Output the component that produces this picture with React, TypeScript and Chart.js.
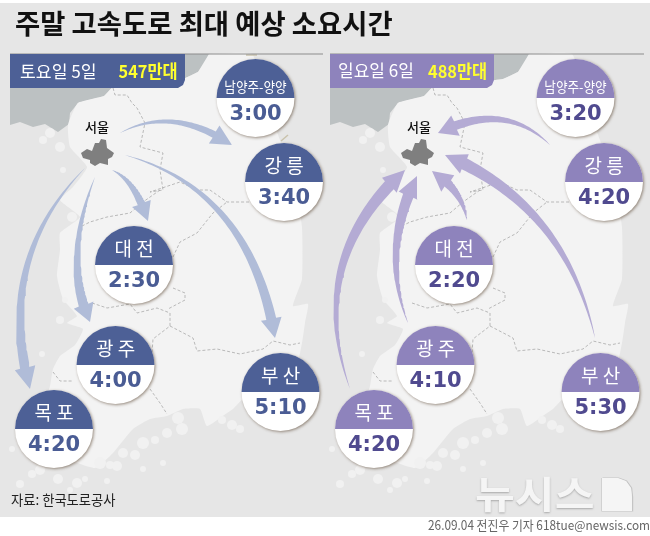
import React, { useEffect, useRef } from "react";
import { Chart, registerables } from "chart.js";

Chart.register(...registerables);

type P = [number, number];

const TITLE = "주말 고속도로 최대 예상 소요시간";
const SOURCE = "자료: 한국도로공사";
const BYLINE = "26.09.04 전진우 기자 618tue@newsis.com";
const CITY = "서울";

const routeNames = ["남양주-양양", "강 릉", "대 전", "광 주", "부 산", "목 포"];
const satTimes = ["3:00", "3:40", "2:30", "4:00", "5:10", "4:20"];
const sunTimes = ["3:20", "4:20", "2:20", "4:10", "5:30", "4:20"];
const badgeX = [255.5, 284, 134, 115.5, 280.5, 54];
const badgeY = [98, 182, 265, 365, 392, 429];
const satLabel = ["토요일 5일", "547만대"];
const sunLabel = ["일요일 6일", "488만대"];
const PANEL_SHIFT = 320;

const sea: P[] = [[10,54],[209,54],[205,63],[198,72],[183,79],[112,88],[104,96],[78,103],[70,113],[69,124],[58,132],[45,124],[33,127],[20,122],[10,125]];
const land: P[] = [[209,54],[252,54],[262,90],[280,140],[296,190],[302,227],[302,279],[293,306],[308,304],[305,323],[302,343],[295,370],[243,399],[233,409],[227,413],[207,426],[200,409],[183,409],[167,416],[150,419],[133,429],[113,453],[95,468],[60,455],[40,420],[50,386],[53,369],[60,356],[75,345],[83,329],[67,323],[77,316],[63,299],[57,276],[60,250],[60,233],[80,217],[60,200],[73,187],[87,167],[70,147],[68,125],[78,103],[104,96],[112,88],[183,79],[198,72]];
const seoul: P[] = [[81,153],[87,149],[92,151],[95,143],[99,143],[101,139],[106,140],[107,148],[114,153],[112,157],[108,159],[108,165],[100,163],[95,166],[90,163],[90,160],[83,158]];
const logoD: P[] = [[602,478],[618,478],[626,481],[631,488],[632,497],[632,511],[602,511]];

const borders: P[][] = [
  [[113,88],[115,95],[127,95],[132,103],[137,108],[145,123],[140,147],[163,153],[160,170],[163,190],[150,192],[180,182],[197,190],[210,190],[227,202],[250,202]],
  [[160,190],[143,202],[130,213],[107,217],[90,222],[80,227]],
  [[173,257],[180,242],[197,233],[213,213],[227,202]],
  [[92,303],[107,308],[130,304],[137,313],[157,308],[170,313],[170,326],[153,339],[152,353]],
  [[170,326],[193,338],[197,351],[217,349],[240,354],[263,349],[273,341],[290,345],[300,343]],
  [[173,288],[185,293],[185,300],[168,309]],
  [[150,389],[160,403],[167,414]],
  [[53,372],[60,381],[73,381]],
];

const islands: number[][] = [
  [12,449,3],[20,484,4],[32,474,4],[58,479,5],[77,483,5],[85,479,3],[107,481,3],[117,466,5],[143,469,3],[163,463,3],[123,453,5],[100,463,6],[143,443,6],[167,433,5],[182,429,6],[240,429,4],[42,354,3],[50,133,5],[43,140,4],[60,147,5],[63,170,3],[72,217,5],[65,300,3],[60,320,4],[40,470,5],[70,490,3],[110,465,4],[135,455,5],[155,440,4],[178,418,6],[232,425,5],[222,420,4],
];

const satArrows: number[][] = [
  [120,133, 172,105, 232,145, 7,21,19],
  [125,155, 250,190, 275,338, 10,21,19],
  [112,170, 135,180, 148,221, 8,20,18],
  [95,177, 62,260, 90,322, 10,21,18],
  [85,168, -5,260, 30,389, 10,21,18],
];
const sunArrows: number[][] = [
  [550,145, 505,100, 438,133, 9,22,18],
  [595,338, 565,205, 445,155, 12,21,20],
  [467,220, 462,190, 432,171, 9,21,20],
  [408,323, 380,250, 417,176, 11,21,20],
  [350,389, 305,260, 405,170, 12,21,20],
];

const BLUE = "#4d6096";
const PURPLE = "#8e83bc";
const BLUE_TXT = "#4a5c94";
const PURPLE_TXT = "#504a8f";

function arrowPoly(a: number[]): P[] {
  const [x0,y0,cx,cy,x1,y1,body,head,headLen] = a;
  const pts: P[] = [];
  for (let i = 0; i <= 60; i++) {
    const t = i / 60, u = 1 - t;
    const x = u*u*x0 + 2*u*t*cx + t*t*x1, y = u*u*y0 + 2*u*t*cy + t*t*y1;
    if (Math.hypot(x-x1, y-y1) < headLen) break;
    pts.push([x, y]);
  }
  const n = pts.length;
  const L: P[] = [], R: P[] = [];
  pts.forEach((p, i) => {
    const q = pts[Math.min(i+1, n-1)], o = pts[Math.max(i-1, 0)];
    const dx = q[0]-o[0], dy = q[1]-o[1], d = Math.hypot(dx, dy) || 1;
    const w = (body/2) * Math.pow(i/(n-1), 0.8);
    L.push([p[0]-dy/d*w, p[1]+dx/d*w]);
    R.push([p[0]+dy/d*w, p[1]-dx/d*w]);
  });
  const last = pts[n-1];
  const dx = x1-last[0], dy = y1-last[1], d = Math.hypot(dx, dy) || 1;
  const hw = head/2;
  return [...L, [last[0]-dy/d*hw, last[1]+dx/d*hw], [x1,y1], [last[0]+dy/d*hw, last[1]-dx/d*hw], ...R.reverse()];
}

const shift = (ps: P[], dx: number): P[] => ps.map(([x,y]) => [x+dx, y] as P);
const xy = (ps: P[]) => ps.map(([x,y]) => ({ x, y }));

function shape(pts: P[], color: string, tension = 0) {
  return { type: "scatter", data: xy(pts), showLine: true, fill: "shape", backgroundColor: color, borderColor: color, borderWidth: 0, pointRadius: 0, tension };
}
function stroke(pts: P[], color: string, width: number, dash: number[] = []) {
  return { type: "scatter", data: xy(pts), showLine: true, fill: false, borderColor: color, borderWidth: width, borderDash: dash, pointRadius: 0 };
}

function buildDatasets() {
  const ds: any[] = [];
  ds.push(shape([[0,3],[650,3],[650,517],[0,517]], "#e6e6e6"));
  for (const dx of [0, PANEL_SHIFT]) {
    ds.push(shape(shift(sea, dx), "#bcc1c2"));
    ds.push(shape(shift(land, dx), "#f3f3f3", 0.15));
    ds.push({ type: "bubble", data: islands.map(([x,y,r]) => ({ x: x+dx, y, r })), backgroundColor: "#f1f1f1", borderWidth: 0 });
    for (const b of borders) ds.push(stroke(shift(b, dx), "#a9a9a9", 0.8, [3, 2]));
    ds.push(shape(shift(seoul, dx), "#7f7f7f"));
  }
  ds.push(stroke([[281,141],[288,135]], "#c9c2ac", 1.5));
  ds.push(stroke([[246,55],[257,55]], "#c9c2ac", 1.5));
  satArrows.forEach((a) => ds.push(shape(arrowPoly(a), "#b0bcd8")));
  sunArrows.forEach((a) => ds.push(shape(arrowPoly(a), "#b4abd4")));
  ds.push(stroke([[10,54],[323,54]], "#8c8c8c", 1));
  ds.push(stroke([[330,54],[644,54]], "#8c8c8c", 1));
  ds.push(shape([[10,54],[185,54],[185,80],[183,85],[178,88],[10,88]], BLUE));
  ds.push(shape([[330,54],[494,54],[494,80],[492,85],[487,88],[330,88]], PURPLE));
  ds.push(stroke(shift(logoD, 0.6).concat([logoD[0]]), "#c4c4c4", 1.2));
  ds.push(shape(logoD, "#f5f5f5"));
  [0, PANEL_SHIFT].forEach((dx) => {
    ds.push({
      type: "bubble", label: dx ? "sun" : "sat", isBadge: true,
      data: badgeX.map((x, i) => ({ x: x + dx, y: badgeY[i], r: 39 })),
      backgroundColor: "#ffffff", borderWidth: 0,
    });
  });
  ds.forEach((d, i) => { d.order = ds.length - i; });
  return ds;
}

const badgePlugin = {
  id: "badges",
  beforeDatasetDraw(chart: any, args: any) {
    if (chart.data.datasets[args.index].isBadge) {
      const c = chart.ctx;
      c.save();
      c.shadowColor = "rgba(90,70,50,0.6)";
      c.shadowBlur = 3;
      c.shadowOffsetX = 1;
      c.shadowOffsetY = 1;
    }
  },
  afterDatasetDraw(chart: any, args: any) {
    if (chart.data.datasets[args.index].isBadge) chart.ctx.restore();
  },
  afterDatasetsDraw(chart: any) {
    const c: CanvasRenderingContext2D = chart.ctx;
    const X = chart.scales.x, Y = chart.scales.y;
    const text = (s: string, x: number, y: number, font: string, color: string, align: CanvasTextAlign = "center", sx = 1) => {
      c.save();
      c.font = font;
      c.fillStyle = color;
      c.textAlign = align;
      c.textBaseline = "middle";
      c.translate(X.getPixelForValue(x), Y.getPixelForValue(y));
      c.scale(sx, 1);
      c.fillText(s, 0, 0);
      c.restore();
    };
    const KR = '"Noto Sans CJK KR"';
    chart.data.datasets.forEach((d: any, di: number) => {
      if (!d.isBadge) return;
      const sun = d.label === "sun";
      const meta = chart.getDatasetMeta(di);
      meta.data.forEach((el: any, i: number) => {
        const r = el.options.radius;
        c.beginPath();
        c.arc(el.x, el.y, r, Math.PI, 2 * Math.PI);
        c.closePath();
        c.fillStyle = sun ? PURPLE : BLUE;
        c.fill();
        const px = d.data[i].x, py = d.data[i].y;
        const name = routeNames[i];
        if (i === 0) text(name, px, py - 11.5, `400 14px ${KR}`, "#fff", "center", 0.9);
        else text(name, px, py - 16.5, `400 19px ${KR}`, "#fff");
        const t = (sun ? sunTimes : satTimes)[i];
        text(t, px, py + 17, `bold 21px "DejaVu Sans"`, sun ? PURPLE_TXT : BLUE_TXT);
      });
    });
    text(TITLE, 15, 24, `700 27.4px ${KR}`, "#111", "left");
    text(satLabel[0], 20, 71, `400 17.2px ${KR}`, "#fff", "left");
    text(satLabel[1], 118.5, 71, `700 17.8px ${KR}`, "#ffff2e", "left", 0.92);
    text(sunLabel[0], 338, 71, `400 17px ${KR}`, "#fff", "left");
    text(sunLabel[1], 428, 71, `700 17.8px ${KR}`, "#ffff2e", "left", 0.92);
    text(CITY, 97, 127, `500 13px ${KR}`, "#111");
    text(CITY, 419, 127, `500 13px ${KR}`, "#111");
    text(SOURCE, 11, 500, `400 14px ${KR}`, "#222", "left", 0.95);
    text(BYLINE, 428, 525, `400 13px ${KR}`, "#666", "left", 0.91);
    c.save();
    c.shadowColor = "rgba(120,120,120,0.55)";
    c.shadowBlur = 2;
    c.shadowOffsetY = 1;
    text("뉴시스", 475, 494, `700 38px ${KR}`, "#f5f5f5", "left", 1.14);
    c.restore();
  },
};

export default function App() {
  const ref = useRef<HTMLCanvasElement>(null);
  useEffect(() => {
    document.body.style.margin = "0";
    document.body.style.background = "#fff";
    const chart = new Chart(ref.current as any, {
      type: "scatter",
      data: { datasets: buildDatasets() },
      options: {
        animation: false,
        responsive: false,
        layout: { padding: 0, autoPadding: false },
        scales: {
          x: { type: "linear", min: 0, max: 650, display: false },
          y: { type: "linear", min: 0, max: 536, reverse: true, display: false },
        },
        plugins: { legend: { display: false }, tooltip: { enabled: false } },
        events: [],
      } as any,
      plugins: [badgePlugin as any],
    } as any);
    return () => chart.destroy();
  }, []);
  return <canvas ref={ref} width={650} height={536} style={{ display: "block", width: 650, height: 536 }} />;
}
